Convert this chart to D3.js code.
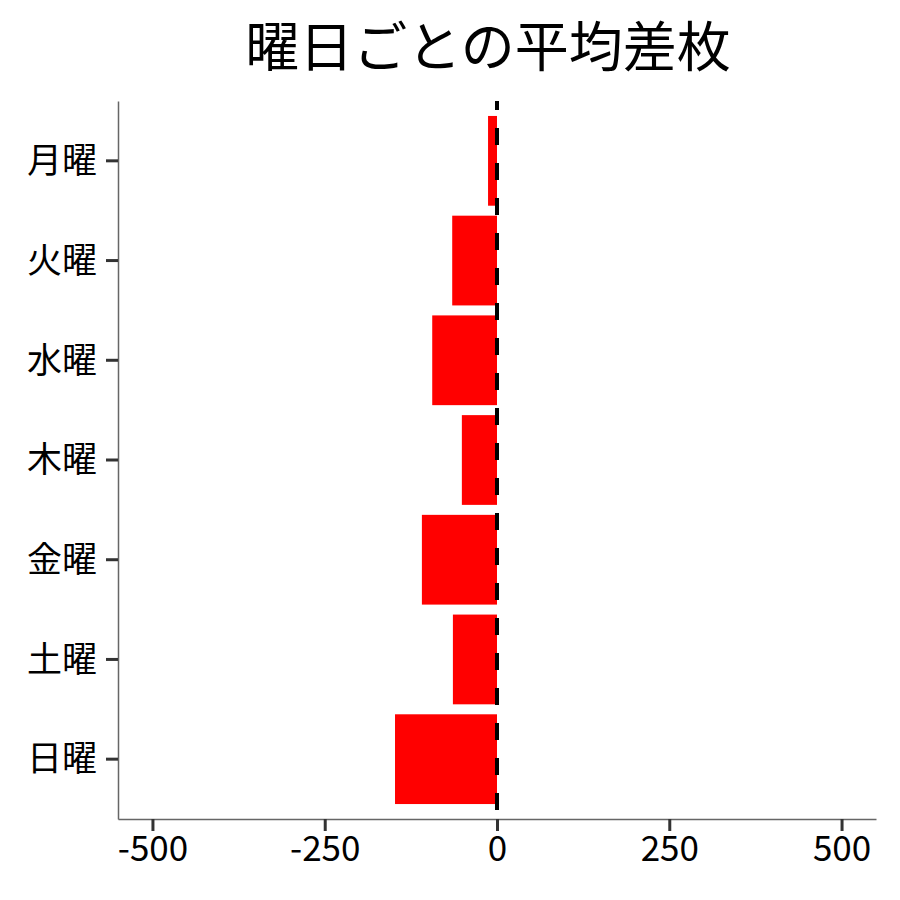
<!DOCTYPE html>
<html>
<head>
<meta charset="utf-8">
<script src="https://cdn.jsdelivr.net/npm/d3@7"></script>
<style>
	body { margin: 0; background: #fff; }
	svg { font-family: "Noto Sans CJK JP", "Noto Sans", sans-serif; }
</style>
</head>
<body>
<svg id="viz" width="900" height="900"></svg>
<script>

// data
const days = ["月曜", "火曜", "水曜", "木曜", "金曜", "土曜", "日曜"];
const meanDiff = [-13, -65, -94, -51, -109, -64, -148];
const xTicks = [-500, -250, 0, 250, 500];
const chartTitle = "曜日ごとの平均差枚";

let svg = d3.select("svg#viz");

const margin = {
	top:	101,
	right:	24,
	bottom: 81,
	left:	118
};
const plotWidth = 900 - margin.left - margin.right;
const plotHeight = 900 - margin.top - margin.bottom;

let data = days.map((d, i) => ({day: d, value: meanDiff[i]}));

// x scale (ggplot style padding round the limits)
let xScale = d3.scaleLinear()
	.domain([-550, 550])
	.range([0, plotWidth]);

// y scale, 0.6 of a step from the edge to the first centre
let yScale = d3.scaleBand()
	.domain(days)
	.range([0, plotHeight])
	.paddingInner(0.1)
	.paddingOuter(0.15);

let plot = svg.append("g")
	.attr("transform", `translate(${margin.left}, ${margin.top})`);

// bars
plot.selectAll("rect.bar")
	.data(data)
	.enter().append("rect")
	.attr("class", "bar")
	.attr("x", d => xScale(Math.min(0, d.value)))
	.attr("width", d => Math.abs(xScale(d.value) - xScale(0)))
	.attr("y", d => yScale(d.day))
	.attr("height", yScale.bandwidth())
	.attr("fill", "#ff0000");

// dashed zero line
plot.append("line")
	.attr("x1", xScale(0))
	.attr("x2", xScale(0))
	.attr("y1", 0)
	.attr("y2", plotHeight)
	.attr("stroke", "#000")
	.attr("stroke-width", 4)
	.attr("stroke-dasharray", "17,18")
	.attr("stroke-dashoffset", 8);

// x axis
let xAxis = d3.axisBottom(xScale)
	.tickValues(xTicks)
	.tickFormat(d => String(d))
	.tickSizeInner(12)
	.tickSizeOuter(0)
	.tickPadding(5);
let xGroup = plot.append("g")
	.attr("transform", `translate(0, ${plotHeight})`)
	.call(xAxis);

// y axis
let yAxis = d3.axisLeft(yScale)
	.tickSizeInner(12)
	.tickSizeOuter(0)
	.tickPadding(9);
let yGroup = plot.append("g").call(yAxis);

[xGroup, yGroup].forEach(g => {
	g.select(".domain").attr("stroke", "#666").attr("stroke-width", 1.5);
	g.selectAll(".tick line").attr("stroke", "#333").attr("stroke-width", 3);
	g.selectAll(".tick text")
		.attr("fill", "#000")
		.style("font-family", '"Noto Sans CJK JP", sans-serif')
		.style("font-size", "35px");
});
yGroup.selectAll(".tick text").attr("dy", "0.35em");

// title
svg.append("text")
	.attr("x", 488)
	.attr("y", 67)
	.attr("text-anchor", "middle")
	.style("font-size", "54px")
	.style("font-family", '"Noto Sans CJK JP", sans-serif')
	.text(chartTitle);

</script>
</body>
</html>
